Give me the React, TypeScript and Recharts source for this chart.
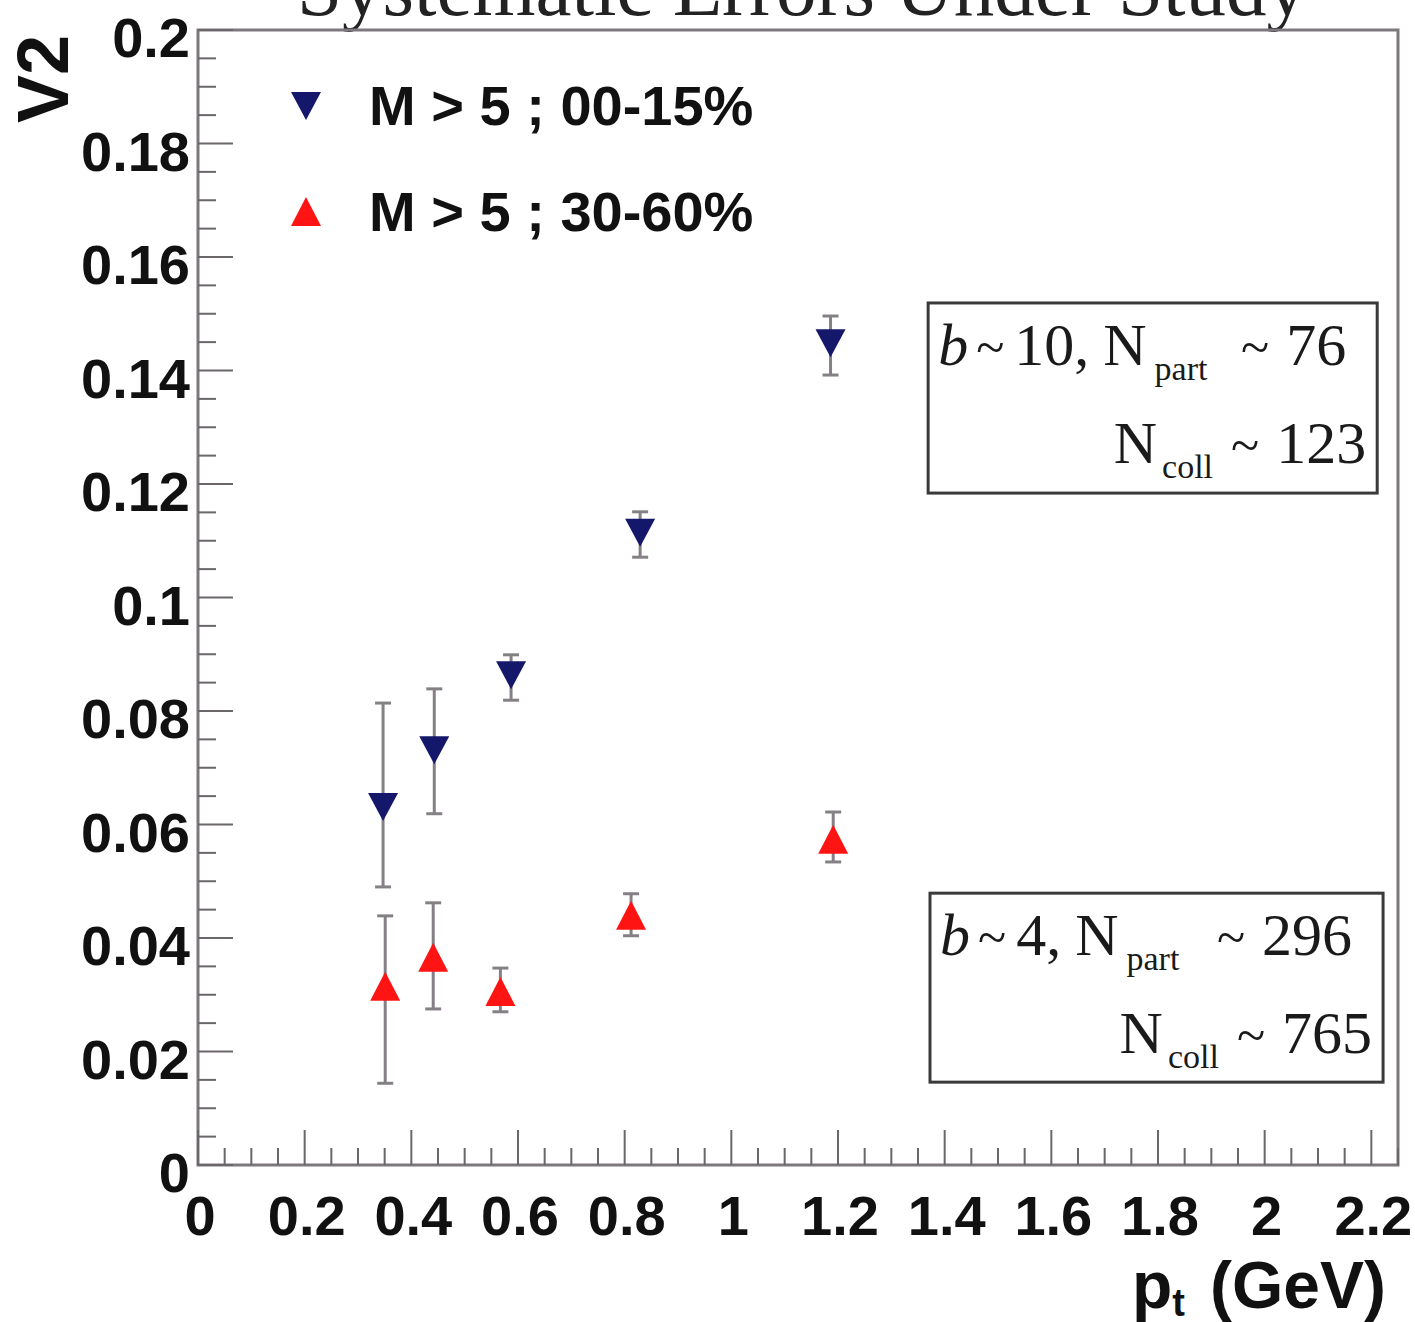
import React from 'react';
import { ScatterChart, Scatter, XAxis, YAxis, ErrorBar, ReferenceArea, Customized } from 'recharts';

// ---- measured v2 vs pt, two centrality classes (M > 5) ----
const ptCentral = [0.347, 0.443, 0.587, 0.829, 1.186];
const v2Central = [0.0631, 0.0731, 0.0863, 0.1114, 0.1448];
const errLowCentral = [0.0141, 0.0112, 0.0044, 0.0043, 0.0056];
const errHighCentral = [0.0183, 0.0108, 0.0036, 0.0037, 0.0048];

const ptPeripheral = [0.351, 0.441, 0.567, 0.812, 1.191];
const v2Peripheral = [0.0314, 0.0365, 0.0305, 0.0439, 0.0573];
const errLowPeripheral = [0.017, 0.009, 0.0035, 0.0035, 0.0039];
const errHighPeripheral = [0.0125, 0.0097, 0.0042, 0.0039, 0.0049];

const seriesNames = ['M > 5 ; 00-15%', 'M > 5 ; 30-60%'];

const xMajorTicks = [0, 0.2, 0.4, 0.6, 0.8, 1, 1.2, 1.4, 1.6, 1.8, 2, 2.2];
const yMajorTicks = [0, 0.02, 0.04, 0.06, 0.08, 0.1, 0.12, 0.14, 0.16, 0.18, 0.2];

const X_DOMAIN: [number, number] = [0, 2.25];
const Y_DOMAIN: [number, number] = [0, 0.2];

// centrality info boxes: impact parameter, participants, binary collisions
const boxB = ['10', '4'];
const boxNpart = ['76', '296'];
const boxNcoll = ['123', '765'];
const boxX = [[1.369, 2.211], [1.3725, 2.222]];
const boxY = [[0.1184, 0.1519], [0.0146, 0.0479]];

const NAVY = '#15186a';
const RED = '#ff1414';
const FRAME = '#7c787c';
const TICK = '#6a666a';
const SANS = "'Liberation Sans', Arial, Helvetica, sans-serif";
const SERIF = "'Liberation Serif', 'Times New Roman', Times, serif";

const central = ptCentral.map((x, i) => ({ x, y: v2Central[i], err: [errLowCentral[i], errHighCentral[i]] }));
const peripheral = ptPeripheral.map((x, i) => ({ x, y: v2Peripheral[i], err: [errLowPeripheral[i], errHighPeripheral[i]] }));

// major ticks plus the minor subdivisions between them
function subdivide(step: number, max: number, digits: number) {
  const out: number[] = [];
  for (let i = 0; i * step <= max + 1e-9; i++) out.push(Number((i * step).toFixed(digits)));
  return out;
}
const xAllTicks = subdivide(0.05, X_DOMAIN[1], 2);
const yAllTicks = subdivide(0.005, Y_DOMAIN[1], 3);
const isMajor = (v: number, majors: number[]) => majors.some((m) => Math.abs(m - v) < 1e-9);

const downTriangle = (cx: number, cy: number, fill: string) => (
  <polygon points={`${cx - 15},${cy - 14} ${cx + 15},${cy - 14} ${cx},${cy + 14}`} fill={fill} />
);
const upTriangle = (cx: number, cy: number, fill: string) => (
  <polygon points={`${cx - 15},${cy + 14} ${cx + 15},${cy + 14} ${cx},${cy - 15}`} fill={fill} />
);

const CentralShape = (p: any) => downTriangle(p.cx, p.cy, NAVY);
const PeripheralShape = (p: any) => upTriangle(p.cx, p.cy, RED);

// ticks point into the frame; labels sit outside
const XTick = (props: any) => {
  const { x, y, payload } = props;
  const v = payload.value;
  const major = isMajor(v, xMajorTicks);
  return (
    <g>
      <line x1={x} x2={x} y1={y} y2={y - (major ? 35 : 17)} stroke={TICK} strokeWidth={2} />
      {major && (
        <text x={x + 2} y={y + 70} textAnchor="middle" fontFamily={SANS} fontWeight="bold" fontSize={56} fill="#111">
          {String(v)}
        </text>
      )}
    </g>
  );
};

const YTick = (props: any) => {
  const { x, y, payload } = props;
  const v = payload.value;
  const major = isMajor(v, yMajorTicks);
  return (
    <g>
      <line x1={x} x2={x + (major ? 35 : 18)} y1={y} y2={y} stroke={TICK} strokeWidth={2} />
      {major && (
        <text x={x - 8} y={y + 27} textAnchor="end" fontFamily={SANS} fontWeight="bold" fontSize={56} fill="#111">
          {String(v)}
        </text>
      )}
    </g>
  );
};

const InfoBox = (idx: number) => (p: any) => {
  const { x, y, width, height } = p;
  return (
    <g>
      <rect x={x} y={y} width={width} height={height} fill="none" stroke="#3a3a3a" strokeWidth={3} />
      <text x={x + 10} y={y + 62} fontFamily={SERIF} fontSize={60} fill="#1a1a1a">
        <tspan fontStyle="italic">b</tspan>
        <tspan dx={8} fontSize={52}>~</tspan>
        <tspan dx={10}>{boxB[idx]},</tspan>
        <tspan dx={14}>N</tspan>
        <tspan dx={8} dy={15} fontSize={34}>part</tspan>
      </text>
      <text x={x + width - 31} y={y + 62} textAnchor="end" fontFamily={SERIF} fontSize={60} fill="#1a1a1a">
        <tspan fontSize={52}>~</tspan>
        <tspan dx={17}>{boxNpart[idx]}</tspan>
      </text>
      <text x={x + width - 11} y={y + 160} textAnchor="end" fontFamily={SERIF} fontSize={60} fill="#1a1a1a">
        <tspan>N</tspan>
        <tspan dx={5} dy={15} fontSize={34}>coll</tspan>
        <tspan dx={18} dy={-15} fontSize={52}>~</tspan>
        <tspan dx={17}>{boxNcoll[idx]}</tspan>
      </text>
    </g>
  );
};

const Decorations = () => (
  <g>
    <text x={802} y={15} textAnchor="middle" fontFamily={SERIF} fontSize={81} fill="#222">
      Systematic Errors Under Study
    </text>
    <text transform="translate(68,35) rotate(-90)" textAnchor="end" fontFamily={SANS} fontWeight="bold" fontSize={72} fill="#111">
      V2
    </text>
    <text x={1132} y={1308} fontFamily={SANS} fontWeight="bold" fontSize={66} fill="#111">
      p<tspan fontSize={38} dy={8}>t</tspan>
      <tspan x={1210} dy={-8}>(GeV)</tspan>
    </text>
    {/* legend */}
    {downTriangle(306, 106, NAVY)}
    <text x={369} y={125} fontFamily={SANS} fontWeight="bold" fontSize={56} fill="#111">{seriesNames[0]}</text>
    {upTriangle(306, 212, RED)}
    <text x={369} y={231} fontFamily={SANS} fontWeight="bold" fontSize={56} fill="#111">{seriesNames[1]}</text>
  </g>
);

export default function App() {
  return (
    <div style={{ position: 'absolute', left: 0, top: 0, width: 1415, height: 1322, background: '#fff' }}>
      <ScatterChart width={1415} height={1322} margin={{ top: 30, right: 17, bottom: 0, left: 0 }}>
        <XAxis
          xAxisId="x"
          type="number"
          dataKey="x"
          domain={X_DOMAIN}
          ticks={xAllTicks}
          interval={0}
          tick={<XTick />}
          tickLine={false}
          tickSize={0}
          tickMargin={0}
          axisLine={false}
          height={157}
          allowDataOverflow
        />
        <YAxis
          yAxisId="y"
          type="number"
          dataKey="y"
          domain={Y_DOMAIN}
          ticks={yAllTicks}
          interval={0}
          tick={<YTick />}
          tickLine={false}
          tickSize={0}
          tickMargin={0}
          axisLine={false}
          width={198}
          allowDataOverflow
        />
        <ReferenceArea
          xAxisId="x"
          yAxisId="y"
          x1={X_DOMAIN[0]}
          x2={X_DOMAIN[1]}
          y1={Y_DOMAIN[0]}
          y2={Y_DOMAIN[1]}
          fill="none"
          fillOpacity={0}
          stroke={FRAME}
          strokeWidth={3}
        />
        {boxB.map((_, i) => (
          <ReferenceArea
            key={i}
            xAxisId="x"
            yAxisId="y"
            x1={boxX[i][0]}
            x2={boxX[i][1]}
            y1={boxY[i][0]}
            y2={boxY[i][1]}
            shape={InfoBox(i)}
          />
        ))}
        <Scatter name={seriesNames[0]} data={central} xAxisId="x" yAxisId="y" shape={CentralShape} isAnimationActive={false}>
          <ErrorBar dataKey="err" direction="y" width={8} stroke="#858085" strokeWidth={3} isAnimationActive={false} />
        </Scatter>
        <Scatter name={seriesNames[1]} data={peripheral} xAxisId="x" yAxisId="y" shape={PeripheralShape} isAnimationActive={false}>
          <ErrorBar dataKey="err" direction="y" width={8} stroke="#858085" strokeWidth={3} isAnimationActive={false} />
        </Scatter>
        <Customized component={<Decorations />} />
      </ScatterChart>
    </div>
  );
}
